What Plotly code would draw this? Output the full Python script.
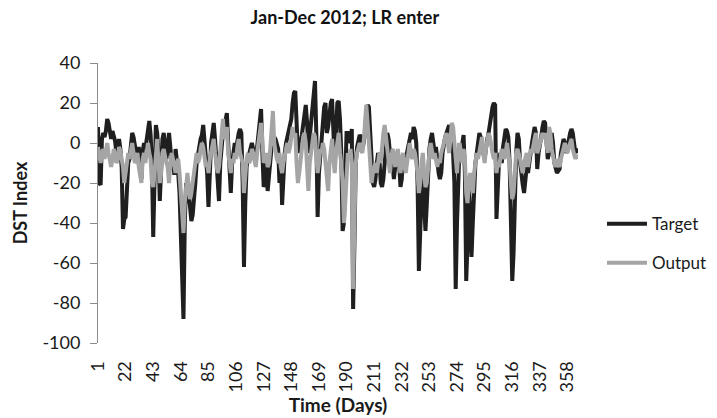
import plotly.graph_objects as go

days = list(range(1, 367))

target = [
    8, -20, -21, 2, 5, 3, 6, 12, 10, 4,
    2, 6, 3, 1, -5, 0, 2, -3, -12, -43,
    -38, -37, -20, -10, -8, 2, 5, 3, 0, -5,
    -10, -2, -8, -18, -4, 0, -3, 2, 8, 11,
    4, -10, -47, -20, 9, 5, -5, -29, -12, 2,
    5, -3, -8, -2, 5, -2, -10, -5, -16, -3,
    -8, -15, -25, -50, -70, -88, -40, -20, -30, -25,
    -32, -39, -36, -30, -20, -10, -7, -2, 2, 4,
    9, 2, -5, -15, -32, -12, 0, 5, 10, 2,
    -10, -20, -29, -10, 0, 5, 8, 12, 15, 0,
    -15, -25, -10, -5, 0, -3, 2, 5, 7, 5,
    -20, -62, -30, -12, -8, -5, -2, 0, -3, -5,
    -8, -2, 5, 10, 17, -5, -22, -20, -10, -24,
    -15, -5, -2, 0, 3, 2, -2, -3, -20, -8,
    -31, -15, -5, 0, 3, 5, 8, 12, 20, 25,
    26, 10, -5, 2, 0, 4, 8, 15, 19, 10,
    -5, 3, 10, 20, 25, 31, 5, -37, -15, -5,
    2, 10, 18, 20, 5, 8, 15, 20, 22, 10,
    -10, 5, 20, 21, 12, -5, -44, -40, -10, 5,
    5, 2, 0, 7, -83, -50, -10, -2, 2, 4,
    3, -2, 0, 5, 15, 19, 18, 5, -10, -20,
    -22, -18, -10, -5, -8, -20, -22, -18, -10, 0,
    5, 2, -5, -3, -10, -18, -12, -5, -8, -10,
    -22, -18, -5, -10, -8, -4, 0, 3, 5, 2,
    8, 6, 0, -20, -64, -45, -20, -10, -30, -44,
    -31, -10, -3, 2, 5, 0, -5, -2, -10, -15,
    -18, -15, -5, 0, 3, 5, 8, 9, 5, 0,
    -5, -20, -73, -40, -10, 0, -5, 2, 4, -15,
    -69, -50, -20, -35, -57, -40, -20, -10, -5, 0,
    5, 3, -2, -5, -8, -2, 2, 5, 10, 15,
    18, 20, 19, -38, -20, -8, -5, -10, -2, 5,
    7, 6, 3, -10, -40, -69, -55, -20, -5, 5,
    2, -10, -18, -21, -25, -18, -12, -15, -8, -5,
    0, 4, 8, 5, -13, -5, -2, 3, 8, 11,
    10, -2, -8, -5, -3, 5, 0, -10, -14, -15,
    -14, -13, -5, 0, 2, 0, -5, -2, 3, 5,
    7, 5, 0, -5, -3, -5,
]

output = [
    -2, -8, -10, -5, -3, -8, -2, 0, -5, -10,
    -12, -8, -3, -6, -10, -8, -2, -4, -8, -12,
    -20, -15, -10, -5, -8, -3, 0, -5, -10, -8,
    -5, -12, -15, -20, -8, -5, -10, -3, 0, -5,
    -8, -20, -22, -15, -3, 2, -10, -20, -15, -5,
    -3, -8, -10, -12, -20, -10, -5, -8, -12, -15,
    -10, -8, -15, -25, -35, -45, -30, -20, -15, -22,
    -28, -25, -20, -15, -10, -5, -10, -8, -3, 0,
    -2, -8, -12, -10, -15, -8, -5, 0, 2, -5,
    -10, -15, -12, -5, 5, 12, 2, 5, 8, -5,
    -12, -15, -8, -10, -5, -8, -2, 2, -5, -8,
    -10, -25, -15, -8, -5, -10, -8, -3, -5, -10,
    -12, -5, 0, 5, 10, 2, -10, -8, -5, -12,
    -10, -3, 5, 16, 0, -5, -8, -10, -5, -12,
    -15, -10, -5, -3, 0, -5, -2, 5, 8, 3,
    5, -10, -20, -15, -8, -5, 3, 5, 0, -12,
    -24, -10, -5, 0, 5, 3, -5, -15, -10, -3,
    -5, 0, -3, -10, -18, -24, -10, -5, 2, -8,
    -15, -5, 0, 5, -5, -10, -20, -40, -30, -10,
    -5, -8, -3, -10, -73, -40, -10, -5, -2, 0,
    -3, -5, 0, 10, 19, 10, 0, -10, -20, -15,
    -12, -10, -15, -8, -5, -10, 0, 5, 9, 2,
    -5, -10, -15, -8, -3, -5, -12, -8, -3, -10,
    -15, -8, -5, -12, -15, -10, -3, 0, -5, -8,
    -3, -5, -10, -15, -25, -20, -10, -5, -15, -22,
    -20, -10, -5, 0, -3, -8, -5, -10, -12, -8,
    -10, -5, -3, 0, 3, 5, 0, -5, 2, 10,
    8, 0, -10, -15, -5, 0, -5, -10, -3, -8,
    -25, -30, -20, -15, -20, -25, -15, -10, -5, -8,
    -5, 0, 3, -5, -10, -3, 0, 5, 3, -2,
    -5, -8, -5, -15, -10, -12, -8, -3, -5, -8,
    -5, 0, -5, -10, -20, -28, -25, -10, -5, -3,
    -5, -8, -12, -15, -10, -8, -5, -12, -8, -3,
    -5, 0, 2, 5, -5, -3, 0, 3, 5, 2,
    5, 0, -5, 8, 5, -3, -8, -10, -12, -8,
    -10, -12, -8, -5, -3, 0, -3, -5, -2, 0,
    2, -3, -5, -8, -6, -8,
]

tick_days = [1, 22, 43, 64, 85, 106, 127, 148, 169, 190, 211, 232, 253, 274, 295, 316, 337, 358]
tick_labels = [str(d) for d in tick_days]
y_ticks = [40, 20, 0, -20, -40, -60, -80, -100]
y_tick_labels = [str(v) for v in y_ticks]

FONT = "Lato, Carlito, Liberation Sans, sans-serif"

fig = go.Figure()
fig.add_trace(go.Scatter(x=days, y=target, mode="lines", name="Target",
                         line=dict(color="#1f1f1f", width=4), legendgroup="a"))
fig.add_trace(go.Scatter(x=days, y=output, mode="lines", name="Output",
                         line=dict(color="#a5a5a5", width=4), legendgroup="b"))

fig.update_layout(
    width=717, height=418,
    margin=dict(l=98, r=139, t=63, b=75, autoexpand=False),
    paper_bgcolor="white", plot_bgcolor="white",
    font=dict(family=FONT, size=18, color="#1a1a1a"),
    title=dict(text="<b>Jan-Dec 2012; LR enter</b>", x=0.481, xanchor="center",
               y=0.957, yanchor="middle", font=dict(size=18, color="#111")),
    showlegend=True,
    legend=dict(x=1.05, xanchor="left", y=0.489, yanchor="top",
                font=dict(size=17), itemwidth=40, tracegroupgap=14,
                bgcolor="rgba(0,0,0,0)"),
    xaxis=dict(range=[1, 366], tickmode="array", tickvals=tick_days, ticktext=tick_labels,
               tickangle=-90, showgrid=False, zeroline=False, showline=False,
               ticks="outside", ticklen=10, tickcolor="rgba(0,0,0,0)",
               tickfont=dict(size=18), automargin=False,
               title=dict(text="<b>Time (Days)</b>", font=dict(size=19), standoff=0)),
    yaxis=dict(range=[-100, 40], tickmode="array", tickvals=y_ticks, ticktext=y_tick_labels,
               showgrid=False, zeroline=False, showline=True, linecolor="#8c8c8c",
               linewidth=1, ticks="outside", ticklen=7, tickcolor="#8c8c8c",
               tickfont=dict(size=18), ticklabelstandoff=6, automargin=False,
               title=dict(text="<b>DST Index</b>", font=dict(size=18), standoff=10)),
)

fig.write_html("out.html")
